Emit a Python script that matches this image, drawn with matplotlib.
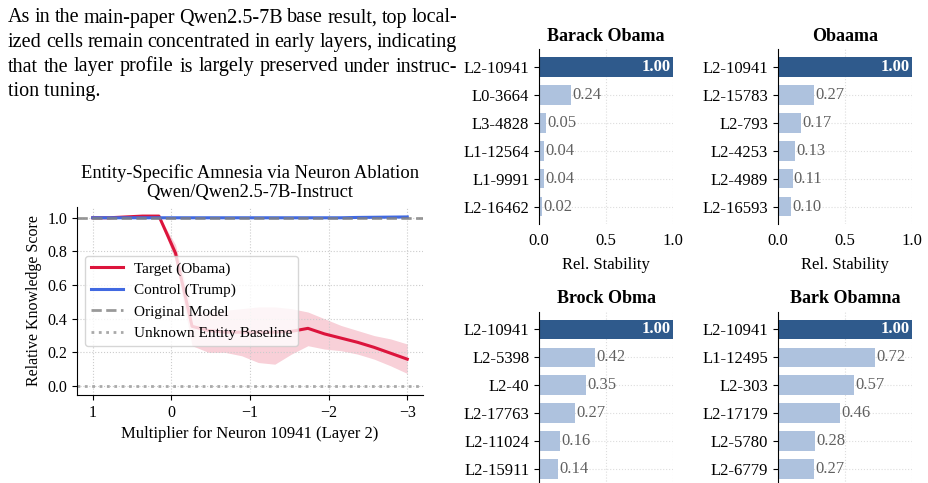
import numpy as np
import matplotlib
matplotlib.use('Agg')
import matplotlib.pyplot as plt

plt.rcParams['font.family'] = 'serif'
plt.rcParams['font.serif'] = ['Liberation Serif', 'DejaVu Serif']

W, H = 929, 483

# paragraph text (justified lines, last one left)
para_lines = [
    "As in the main-paper Qwen2.5-7B base result, top local-",
    "ized cells remain concentrated in early layers, indicating",
    "that the layer profile is largely preserved under instruc-",
    "tion tuning.",
]

# line chart data
mult = np.linspace(1, -3, 20)
target = [1.0, 1.0, 1.005, 1.01, 1.01, 0.79, 0.355, 0.33, 0.32, 0.32,
          0.32, 0.32, 0.325, 0.343, 0.31, 0.285, 0.26, 0.23, 0.195, 0.16]
target_lo = [1.0, 1.0, 1.005, 1.01, 1.01, 0.74, 0.24, 0.20, 0.20, 0.18,
             0.14, 0.13, 0.19, 0.24, 0.22, 0.21, 0.19, 0.16, 0.12, 0.075]
target_hi = [1.0, 1.0, 1.005, 1.01, 1.01, 0.84, 0.44, 0.44, 0.45, 0.46,
             0.47, 0.47, 0.46, 0.44, 0.40, 0.36, 0.33, 0.30, 0.28, 0.25]
control = [1.0] * 16 + [1.002, 1.003, 1.004, 1.005]
control_lo = [1.0] * 20
control_hi = [1.0] * 16 + [1.005, 1.007, 1.009, 1.01]

# bar chart data
titles = ["Barack Obama", "Obaama", "Brock Obma", "Bark Obamna"]
cells = [
    ["L2-10941", "L0-3664", "L3-4828", "L1-12564", "L1-9991", "L2-16462"],
    ["L2-10941", "L2-15783", "L2-793", "L2-4253", "L2-4989", "L2-16593"],
    ["L2-10941", "L2-5398", "L2-40", "L2-17763", "L2-11024", "L2-15911"],
    ["L2-10941", "L1-12495", "L2-303", "L2-17179", "L2-5780", "L2-6779"],
]
stability = [
    [1.00, 0.24, 0.05, 0.04, 0.04, 0.02],
    [1.00, 0.27, 0.17, 0.13, 0.11, 0.10],
    [1.00, 0.42, 0.35, 0.27, 0.16, 0.14],
    [1.00, 0.72, 0.57, 0.46, 0.28, 0.27],
]

fig = plt.figure(figsize=(W / 100, H / 100), dpi=100)
renderer = fig.canvas.get_renderer()


def px_axes(left, top, right, bottom):
    return fig.add_axes([left / W, (H - bottom) / H, (right - left) / W, (bottom - top) / H])


# text block, justified between x0 and x1 (pixels)
x0, x1 = 8, 457
fs_para = 14.5
for i, line in enumerate(para_lines):
    y = 1 - (22.5 + i * 24.5) / H
    words = line.split(' ')
    if i == len(para_lines) - 1:
        fig.text(x0 / W, y, line, fontsize=fs_para, ha='left', va='baseline')
        continue
    arts = [fig.text(0, y, w, fontsize=fs_para, ha='left', va='baseline') for w in words]
    widths = [a.get_window_extent(renderer).width for a in arts]
    gap = (x1 - x0 - sum(widths)) / (len(words) - 1)
    x = x0
    for a, w in zip(arts, widths):
        a.set_x(x / W)
        x += w + gap

# line chart
ax = px_axes(77, 207, 423, 395)
ax.fill_between(mult, target_lo, target_hi, color='crimson', alpha=0.2, lw=0)
ax.fill_between(mult, control_lo, control_hi, color='royalblue', alpha=0.2, lw=0)
ax.plot(mult, target, color='crimson', lw=2.2, label='Target (Obama)')
ax.plot(mult, control, color='royalblue', lw=2.2, label='Control (Trump)')
ax.axhline(1.0, color='gray', ls='--', lw=2, alpha=0.8, label='Original Model')
ax.axhline(0.0, color='darkgray', ls=':', lw=2, label='Unknown Entity Baseline')
ax.set_xlim(1.2, -3.2)
ax.set_ylim(-0.053, 1.064)
ax.set_xticks([1, 0, -1, -2, -3])
ax.set_yticks([0, 0.2, 0.4, 0.6, 0.8, 1.0])
ax.grid(True, ls=':', lw=0.8, color='#cccccc')
ax.spines['top'].set_visible(False)
ax.spines['right'].set_visible(False)
ax.tick_params(labelsize=11.5)
ax.set_xlabel('Multiplier for Neuron 10941 (Layer 2)', fontsize=12)
ax.set_ylabel('Relative Knowledge Score', fontsize=11.5)
ax.set_title('Entity-Specific Amnesia via Neuron Ablation\nQwen/Qwen2.5-7B-Instruct',
             fontsize=13.3, linespacing=1.15, pad=7)
ax.legend(loc='center left', fontsize=11, framealpha=0.8, handlelength=2.1,
          handletextpad=0.7)

# bar charts
dark = '#2f5a8c'
light = '#aec2de'
boxes = [(539, 49.3, 673.3, 224.3), (777.7, 49.3, 912.3, 224.3),
         (539, 311.7, 673.3, 486.7), (777.7, 311.7, 912.3, 486.7)]
for k in range(4):
    bx = px_axes(*boxes[k])
    vals = stability[k]
    ypos = np.arange(len(vals))
    colors = [dark] + [light] * (len(vals) - 1)
    bx.barh(ypos, vals, height=0.7, color=colors, zorder=2)
    bx.set_yticks(ypos)
    bx.set_yticklabels(cells[k])
    bx.invert_yaxis()
    bx.set_xlim(0, 1)
    bx.set_xticks([0, 0.5, 1.0])
    bx.grid(True, ls=':', lw=0.8, color='#dddddd', zorder=0)
    for s in ['top', 'right', 'bottom']:
        bx.spines[s].set_visible(False)
    bx.tick_params(axis='x', length=0, labelsize=12, pad=6)
    bx.tick_params(axis='y', labelsize=12)
    bx.set_title(titles[k], fontsize=13, fontweight='bold')
    if k < 2:
        bx.set_xlabel('Rel. Stability', fontsize=12, labelpad=6)
    else:
        # lower panels run past the bottom edge, so their x labels are not shown
        bx.tick_params(axis='x', labelbottom=False)
    for i, v in enumerate(vals):
        if i == 0:
            bx.text(v - 0.02, i, f'{v:.2f}', ha='right', va='center', color='white',
                    fontweight='bold', fontsize=12)
        else:
            bx.text(v + 0.01, i, f'{v:.2f}', ha='left', va='center', color='#606060',
                    fontsize=12)

fig.savefig('out.png', dpi=100)
